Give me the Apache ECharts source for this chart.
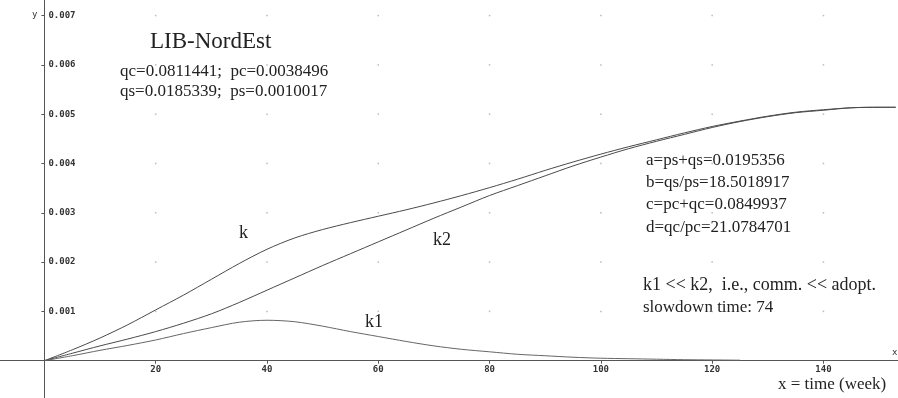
<!DOCTYPE html>
<html>
<head>
<meta charset="utf-8">
<style>
  html, body { margin: 0; padding: 0; background: #fff; }
  #chart { width: 898px; height: 398px; }
</style>
<script src="https://cdn.jsdelivr.net/npm/echarts@6/dist/echarts.min.js"></script>
</head>
<body>
<div id="chart"></div>
<script>
// time in weeks
const weeks = [0, 5, 10, 15, 20, 25, 30, 35, 40, 45, 50, 55, 60, 65, 70, 75, 80, 85, 90, 95, 100,
               105, 110, 115, 120, 125, 130, 135, 140, 145, 150, 153];
// total k
const kValues = [0, 0.00022, 0.00046, 0.00073, 0.00103, 0.00133, 0.00165, 0.00197, 0.00226, 0.00249,
                 0.00266, 0.00280, 0.00293, 0.00306, 0.00320, 0.00335, 0.00351, 0.00368, 0.00386, 0.00403,
                 0.00419, 0.00434, 0.00448, 0.00462, 0.00475, 0.00486, 0.00496, 0.00504, 0.00509, 0.00513,
                 0.00514, 0.00514];
// adoption component k2
const k2Values = [0, 0.00015, 0.00030, 0.00044, 0.00059, 0.00076, 0.00095, 0.00118, 0.00143, 0.00168,
                  0.00193, 0.00217, 0.00241, 0.00265, 0.00289, 0.00312, 0.00335, 0.00355, 0.00375, 0.00395,
                  0.00413, 0.00430, 0.00445, 0.00459, 0.00473, 0.00485, 0.00495, 0.00503, 0.00508, 0.00513,
                  0.00514, 0.00514];
// communication component k1 (drawn up to week 125)
const k1Values = [0, 0.00010, 0.00021, 0.00031, 0.00042, 0.00055, 0.00067, 0.00078, 0.00082, 0.00079,
                  0.00070, 0.00059, 0.00049, 0.00039, 0.00030, 0.00023, 0.00018, 0.00013, 0.00010, 0.00007,
                  0.00005, 0.00004, 0.00003, 0.00002, 0.000015, 0.00001];

const xTicks = [20, 40, 60, 80, 100, 120, 140];
const yTicks = [0.001, 0.002, 0.003, 0.004, 0.005, 0.006, 0.007];

const pairs = (xs, ys) => ys.map((v, i) => [xs[i], v]);
const gridDots = [];
xTicks.forEach(x => yTicks.forEach(y => gridDots.push([x, y])));

const ink = '#4a4a4a';
const serif = '"Liberation Serif", "Times New Roman", serif';
const mono = '"DejaVu Sans Mono", monospace';
const W = 898, H = 398;

const chart = echarts.init(document.getElementById('chart'));

const curve = (name, data, color) => ({
  name, type: 'line', data, showSymbol: false, smooth: 0.3, silent: true,
  lineStyle: { color, width: 1 }, z: 3
});

const txt = (text, x, y, size) => ({
  type: 'text', x, y,
  style: { text, font: size + 'px ' + serif, fill: '#222', textAlign: 'left', textVerticalAlign: 'middle' }
});

chart.setOption({
  animation: false,
  backgroundColor: '#fff',
  grid: { left: 0, right: 0, top: 0, bottom: 0, containLabel: false, outerBoundsMode: 'none' },
  xAxis: {
    type: 'value', min: -7.98, max: 153.4,
    axisLine: { onZero: false, lineStyle: { color: '#555', width: 1 } },
    axisTick: { show: true, length: 3, customValues: xTicks, lineStyle: { color: '#555' } },
    axisLabel: { customValues: xTicks, margin: 4, fontFamily: mono, fontSize: 9, fontWeight: 'bold', color: '#333' },
    splitLine: { show: false }
  },
  yAxis: {
    type: 'value', min: -0.000757, max: 0.007316,
    axisLine: { onZero: false, lineStyle: { color: '#555', width: 1 } },
    axisTick: { show: true, length: 3, customValues: yTicks, lineStyle: { color: '#555' } },
    axisLabel: {
      customValues: yTicks, inside: true, margin: 4, fontFamily: mono, fontSize: 9, fontWeight: 'bold', color: '#333',
      formatter: v => v.toFixed(3)
    },
    splitLine: { show: false }
  },
  series: [
    {
      type: 'scatter', data: gridDots, symbol: 'rect', symbolSize: 1.5, silent: true,
      itemStyle: { color: '#aaa' }, z: 1
    },
    curve('k', pairs(weeks, kValues), ink),
    curve('k2', pairs(weeks, k2Values), ink),
    curve('k1', pairs(weeks, k1Values), '#666')
  ],
  graphic: [
    { type: 'text', x: 32, y: 15, style: { text: 'y', font: '9px ' + mono, fill: '#333', textVerticalAlign: 'middle' } },
    { type: 'text', x: 892, y: 353, style: { text: 'x', font: '9px ' + mono, fill: '#333', textVerticalAlign: 'middle' } },
    txt('LIB-NordEst', 150, 42, 23),
    txt('qc=0.0811441;  pc=0.0038496', 120, 72, 17),
    txt('qs=0.0185339;  ps=0.0010017', 120, 92, 17),
    txt('a=ps+qs=0.0195356', 646, 161, 17),
    txt('b=qs/ps=18.5018917', 646, 183, 17),
    txt('c=pc+qc=0.0849937', 646, 205, 17),
    txt('d=qc/pc=21.0784701', 646, 228, 17),
    txt('k1 << k2,  i.e., comm. << adopt.', 643, 285, 18),
    txt('slowdown time: 74', 643, 308, 17),
    txt('x = time (week)', 778, 385, 17),
    txt('k', 239, 233, 18),
    txt('k2', 433, 240, 18),
    txt('k1', 365, 322, 18)
  ]
});

// move both axes onto the origin, labels and ticks included
const x0 = chart.convertToPixel({ xAxisIndex: 0 }, 0);
const y0 = chart.convertToPixel({ yAxisIndex: 0 }, 0);
chart.setOption({
  yAxis: { offset: -x0 },
  xAxis: { offset: -(H - y0) }
});
</script>
</body>
</html>
